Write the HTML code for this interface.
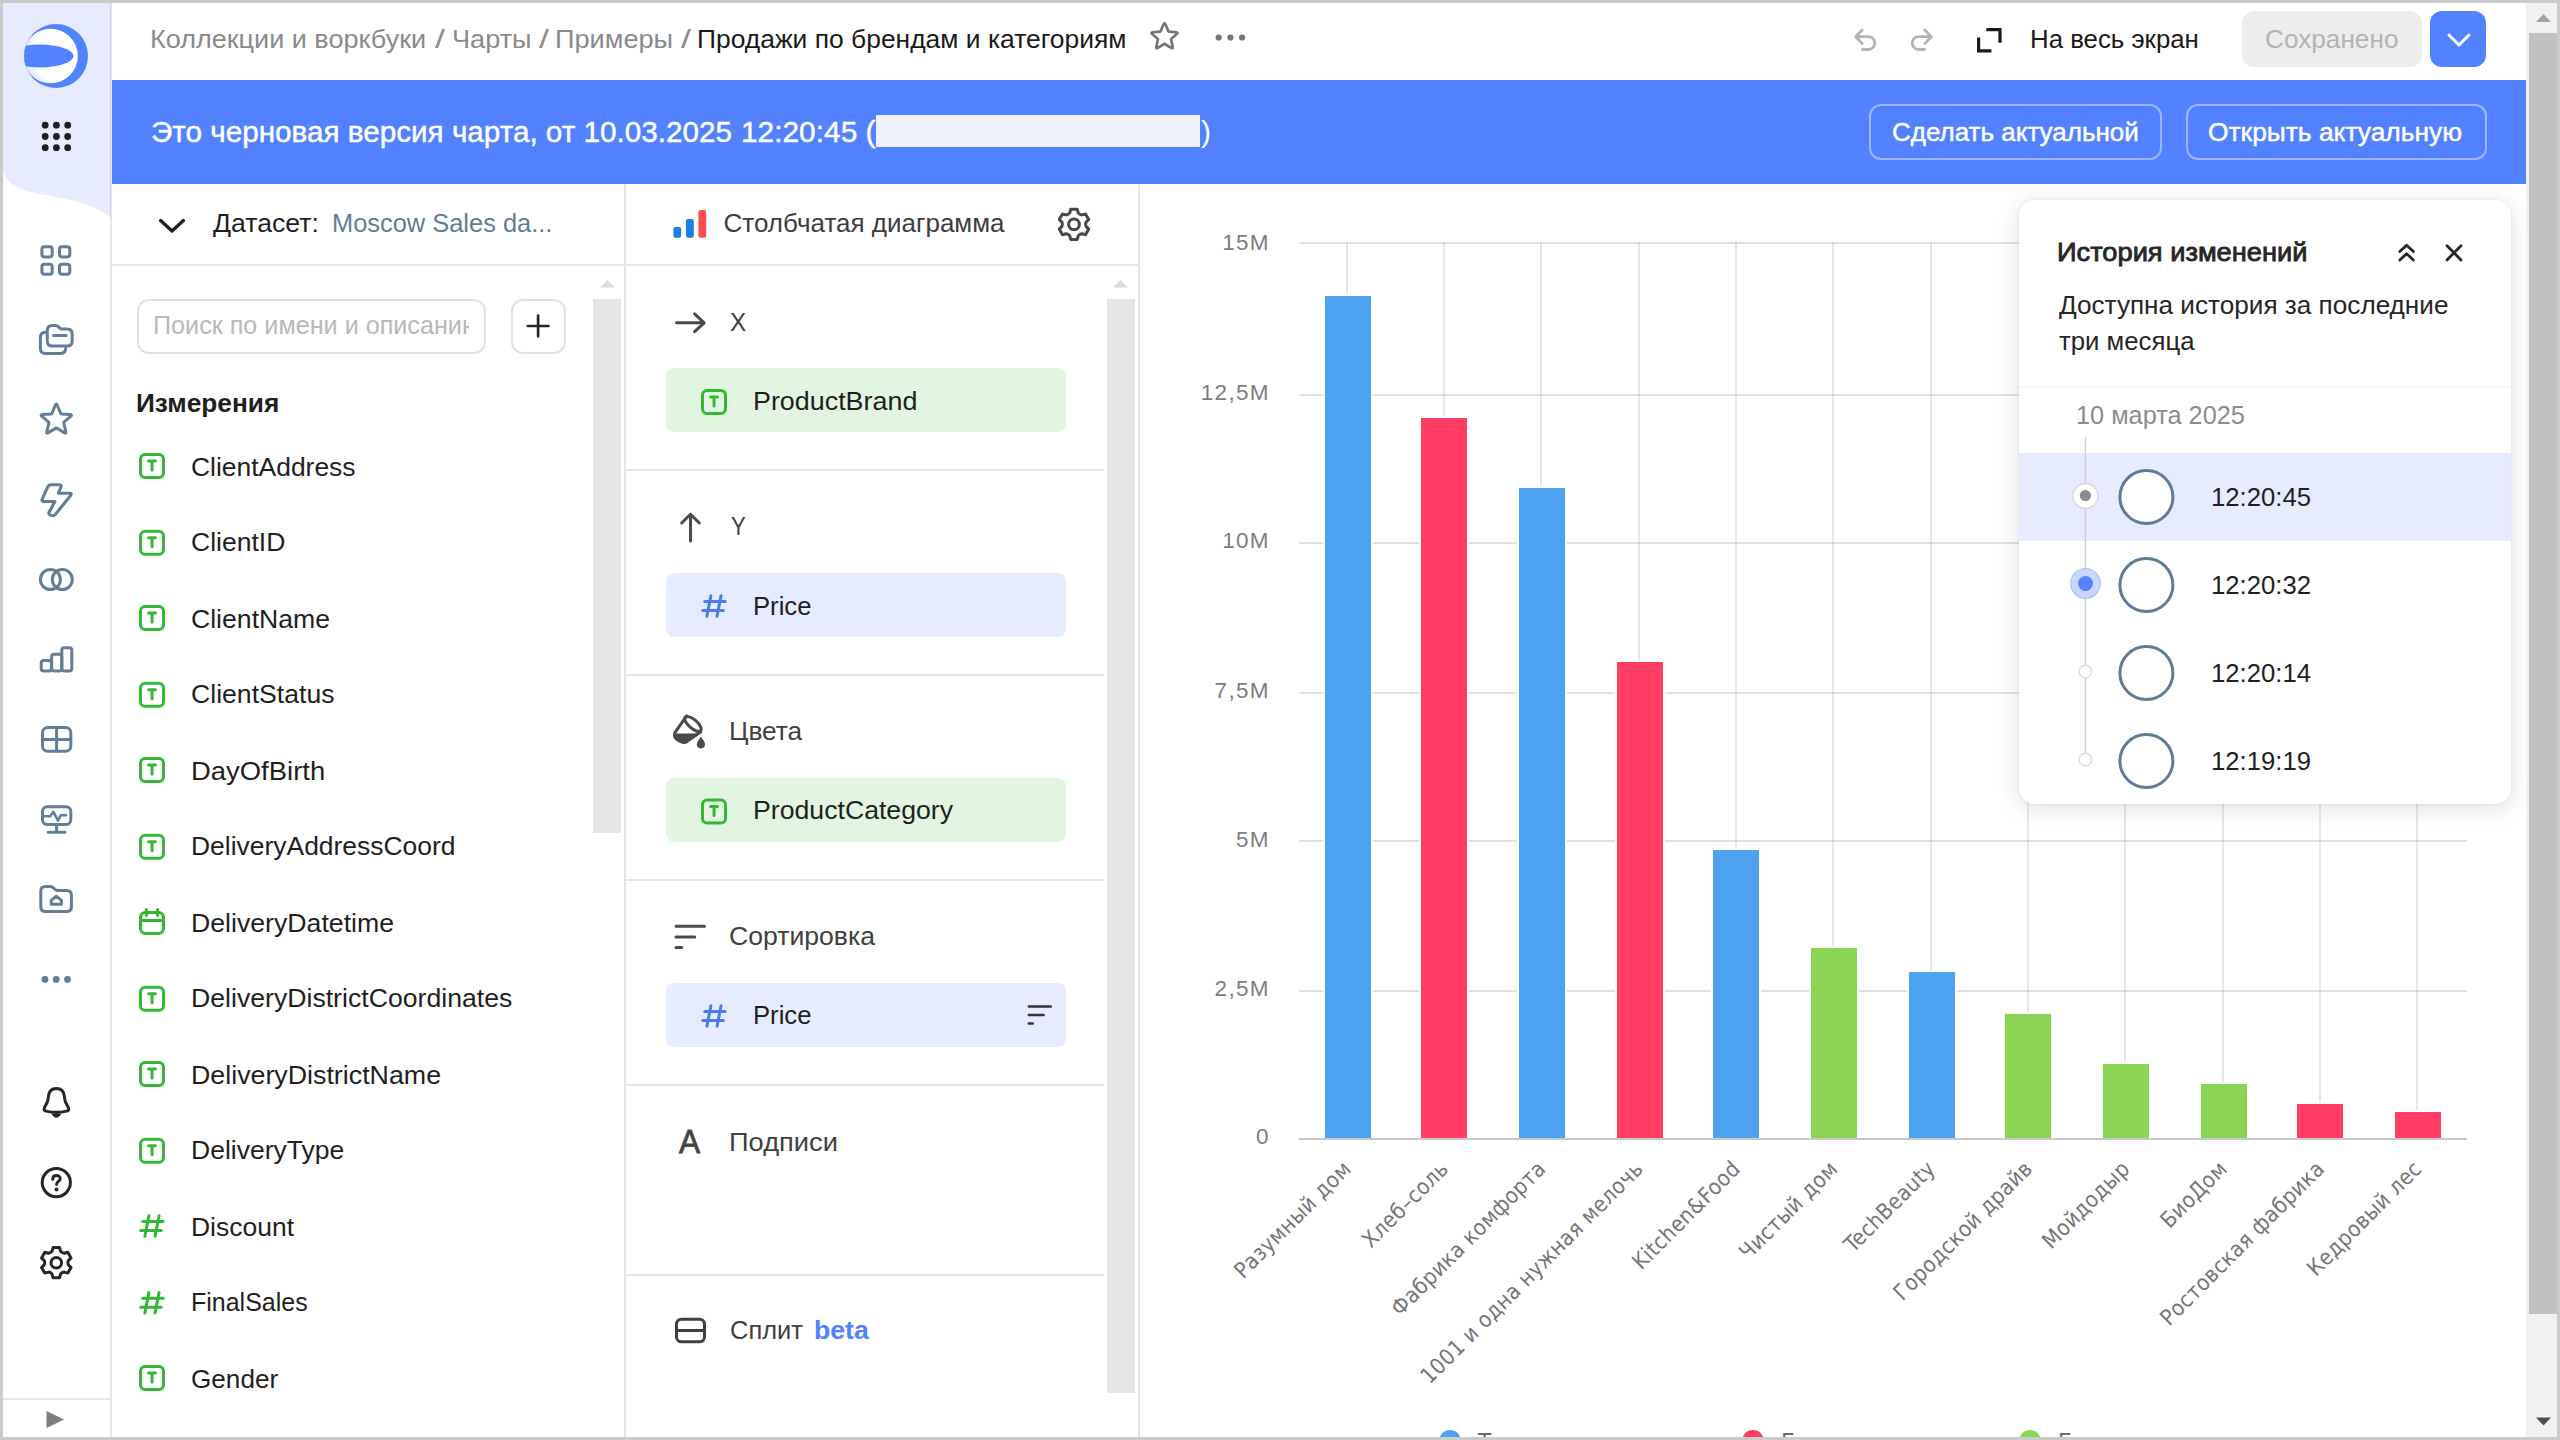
<!DOCTYPE html>
<html lang="ru"><head><meta charset="utf-8"><title>Продажи по брендам и категориям</title>
<style>
html,body{margin:0;padding:0;}
body{width:2560px;height:1440px;overflow:hidden;background:#fff;position:relative;font-family:'Liberation Sans',sans-serif;color:#1f1f1f;}
.a{position:absolute;}
.t{position:absolute;white-space:pre;display:block;transform-origin:0 0;}
.frame{position:absolute;left:0;top:0;width:2554px;height:1434px;border:3px solid #cbcbcb;z-index:50;pointer-events:none;}
svg{position:absolute;overflow:visible;}
.ph{position:absolute;left:666px;width:400px;height:64px;border-radius:8px;}
.ph.g{background:#e2f5e0;}
.ph.b{background:#e6ebff;}
.hl{position:absolute;height:2px;background:#e5e5e5;}
.vl{position:absolute;width:2px;background:#e5e5e5;}

</style></head>
<body>
<div class="frame"></div>
<div class="a" style="left:3px;top:3px;width:108px;height:1434px;background:#fff;"></div>
<svg class="a" style="left:0;top:0" width="112" height="240" viewBox="0 0 112 240"><path d="M3 3H111V218C96 206 78 201 56 197C30 192 10 190 3 172Z" fill="#e6ebff"/></svg>
<div class="vl" style="left:110px;top:3px;height:1434px;background:rgba(0,0,0,.095);"></div>
<div class="hl" style="left:3px;top:1398px;width:108px;"></div>
<span class="t" style="left:150.42px;top:25.99px;font-size:26px;line-height:26px;color:#8a8a8a;transform:scaleX(1.0393);">Коллекции и воркбуки</span>
<span class="t" style="left:435.00px;top:25.99px;font-size:26px;line-height:26px;color:#8a8a8a;transform:scaleX(1.3750);">/</span>
<span class="t" style="left:451.66px;top:25.99px;font-size:26px;line-height:26px;color:#8a8a8a;transform:scaleX(1.0436);">Чарты</span>
<span class="t" style="left:538.75px;top:25.99px;font-size:26px;line-height:26px;color:#8a8a8a;transform:scaleX(1.3750);">/</span>
<span class="t" style="left:554.91px;top:25.99px;font-size:26px;line-height:26px;color:#8a8a8a;transform:scaleX(1.0437);">Примеры</span>
<span class="t" style="left:681.00px;top:25.99px;font-size:26px;line-height:26px;color:#8a8a8a;transform:scaleX(1.3750);">/</span>
<span class="t" style="left:697.47px;top:25.99px;font-size:26px;line-height:26px;color:#1a1a1a;transform:scaleX(1.0165);">Продажи по брендам и категориям</span>
<span class="t" style="left:2030.02px;top:25.99px;font-size:26px;line-height:26px;color:#1a1a1a;transform:scaleX(0.9924);">На весь экран</span>
<div class="a" style="left:2242px;top:11px;width:180px;height:56px;border-radius:12px;background:#ededed;"></div>
<span class="t" style="left:2264.99px;top:25.99px;font-size:26px;line-height:26px;color:#b3b3b3;transform:scaleX(1.0073);">Сохранено</span>
<div class="a" style="left:2430px;top:11px;width:56px;height:56px;border-radius:12px;background:#5282ff;"></div>
<div class="a" style="left:112px;top:80px;width:2414px;height:104px;background:#5282ff;"></div>
<span class="t" style="left:151.01px;top:116.61px;font-size:30px;line-height:30px;color:#fff;transform:scaleX(0.9884);-webkit-text-stroke:0.45px #fff;">Это черновая версия чарта, от 10.03.2025</span>
<span class="t" style="left:740.51px;top:116.61px;font-size:30px;line-height:30px;color:#fff;transform:scaleX(0.9954);-webkit-text-stroke:0.45px #fff;">12:20:45 (</span>
<div class="a" style="left:876px;top:115px;width:324px;height:32px;background:#eef1fb;"></div>
<span class="t" style="left:1201.00px;top:116.61px;font-size:30px;line-height:30px;color:#fff;">)</span>
<div class="a" style="left:1869px;top:103.5px;width:288.5px;height:52.5px;border-radius:12px;border:2px solid rgba(255,255,255,.42);box-sizing:content-box;"></div>
<span class="t" style="left:1892.00px;top:118.99px;font-size:26px;line-height:26px;color:#fff;-webkit-text-stroke:0.45px #fff;">Сделать актуальной</span>
<div class="a" style="left:2186px;top:103.5px;width:296.5px;height:52.5px;border-radius:12px;border:2px solid rgba(255,255,255,.42);"></div>
<span class="t" style="left:2208.49px;top:118.99px;font-size:26px;line-height:26px;color:#fff;transform:scaleX(1.0145);-webkit-text-stroke:0.45px #fff;">Открыть актуальную</span>
<div class="vl" style="left:624px;top:184px;height:1253px;background:#e3e3e3;"></div>
<div class="vl" style="left:1138px;top:184px;height:1253px;background:#e3e3e3;"></div>
<div class="hl" style="left:112px;top:264px;width:1026px;"></div>
<span class="t" style="left:212.50px;top:209.99px;font-size:26px;line-height:26px;color:#1f1f1f;transform:scaleX(1.0240);">Датасет:</span>
<span class="t" style="left:331.79px;top:209.99px;font-size:26px;line-height:26px;color:#5f7d99;transform:scaleX(0.9776);">Moscow Sales da...</span>
<div class="a" style="left:137px;top:298.5px;width:345px;height:51px;border-radius:12px;border:2px solid #e1e1e1;"></div>
<div class="a" style="left:150px;top:305px;width:319px;height:44px;overflow:hidden;"><span class="t" style="left:2.56px;top:7.49px;font-size:26px;line-height:26px;color:#b8b8b8;transform:scaleX(0.9679);">Поиск по имени и описанию</span></div>
<div class="a" style="left:511px;top:298.5px;width:51px;height:51px;border-radius:12px;border:2px solid #e1e1e1;"></div>
<div class="a" style="left:593px;top:299px;width:28px;height:534px;background:#e6e6e6;"></div>
<span class="t" style="left:135.99px;top:389.99px;font-size:26px;line-height:26px;color:#1f1f1f;font-weight:700;transform:scaleX(1.0094);">Измерения</span>
<span class="t" style="left:191.48px;top:453.99px;font-size:26px;line-height:26px;color:#1f1f1f;transform:scaleX(1.0165);">ClientAddress</span>
<span class="t" style="left:191.48px;top:528.89px;font-size:26px;line-height:26px;color:#1f1f1f;transform:scaleX(1.0199);">ClientID</span>
<span class="t" style="left:191.48px;top:605.99px;font-size:26px;line-height:26px;color:#1f1f1f;transform:scaleX(1.0233);">ClientName</span>
<span class="t" style="left:191.48px;top:680.89px;font-size:26px;line-height:26px;color:#1f1f1f;transform:scaleX(1.0238);">ClientStatus</span>
<span class="t" style="left:191.14px;top:757.99px;font-size:26px;line-height:26px;color:#1f1f1f;transform:scaleX(1.0551);">DayOfBirth</span>
<span class="t" style="left:191.22px;top:832.89px;font-size:26px;line-height:26px;color:#1f1f1f;transform:scaleX(1.0170);">DeliveryAddressCoord</span>
<span class="t" style="left:191.20px;top:909.99px;font-size:26px;line-height:26px;color:#1f1f1f;transform:scaleX(1.0257);">DeliveryDatetime</span>
<span class="t" style="left:191.20px;top:984.89px;font-size:26px;line-height:26px;color:#1f1f1f;transform:scaleX(1.0248);">DeliveryDistrictCoordinates</span>
<span class="t" style="left:191.19px;top:1061.99px;font-size:26px;line-height:26px;color:#1f1f1f;transform:scaleX(1.0302);">DeliveryDistrictName</span>
<span class="t" style="left:191.21px;top:1136.89px;font-size:26px;line-height:26px;color:#1f1f1f;transform:scaleX(1.0199);">DeliveryType</span>
<span class="t" style="left:191.21px;top:1213.99px;font-size:26px;line-height:26px;color:#1f1f1f;transform:scaleX(1.0182);">Discount</span>
<span class="t" style="left:191.33px;top:1288.89px;font-size:26px;line-height:26px;color:#1f1f1f;transform:scaleX(0.9611);">FinalSales</span>
<span class="t" style="left:191.49px;top:1365.99px;font-size:26px;line-height:26px;color:#1f1f1f;transform:scaleX(1.0051);">Gender</span>
<span class="t" style="left:723.50px;top:209.99px;font-size:26px;line-height:26px;color:#3d3d3d;">Столбчатая диаграмма</span>
<div class="a" style="left:1107px;top:299px;width:28px;height:1094px;background:#e6e6e6;"></div>
<div class="hl" style="left:626px;top:469px;width:478px;"></div>
<div class="hl" style="left:626px;top:674px;width:478px;"></div>
<div class="hl" style="left:626px;top:879px;width:478px;"></div>
<div class="hl" style="left:626px;top:1084px;width:478px;"></div>
<div class="hl" style="left:626px;top:1274px;width:478px;"></div>
<span class="t" style="left:730.30px;top:309.37px;font-size:26.5px;line-height:26.5px;color:#404040;transform:scaleX(0.9167);">X</span>
<span class="t" style="left:730.75px;top:513.49px;font-size:26px;line-height:26px;color:#404040;transform:scaleX(0.8529);">Y</span>
<span class="t" style="left:728.73px;top:718.49px;font-size:26px;line-height:26px;color:#404040;transform:scaleX(1.0110);">Цвета</span>
<span class="t" style="left:729.48px;top:923.49px;font-size:26px;line-height:26px;color:#404040;transform:scaleX(1.0230);">Сортировка</span>
<span class="t" style="left:728.60px;top:1128.99px;font-size:26px;line-height:26px;color:#404040;transform:scaleX(1.0493);">Подписи</span>
<span class="t" style="left:729.72px;top:1317.49px;font-size:26px;line-height:26px;color:#404040;transform:scaleX(0.9789);">Сплит</span>
<span class="t" style="left:813.98px;top:1317.49px;font-size:26px;line-height:26px;color:#5282ff;font-weight:700;transform:scaleX(1.0245);">beta</span>
<div class="ph g" style="top:368px;"></div>
<div class="ph b" style="top:573px;"></div>
<div class="ph g" style="top:778px;"></div>
<div class="ph b" style="top:983px;"></div>
<span class="t" style="left:752.93px;top:387.99px;font-size:26px;line-height:26px;color:#1f1f1f;transform:scaleX(1.0336);">ProductBrand</span>
<span class="t" style="left:753.03px;top:592.99px;font-size:26px;line-height:26px;color:#1f1f1f;transform:scaleX(0.9863);">Price</span>
<span class="t" style="left:752.95px;top:797.49px;font-size:26px;line-height:26px;color:#1f1f1f;transform:scaleX(1.0254);">ProductCategory</span>
<span class="t" style="left:753.03px;top:1002.49px;font-size:26px;line-height:26px;color:#1f1f1f;transform:scaleX(0.9863);">Price</span>
<svg style="left:0;top:0" width="2560" height="1440" viewBox="0 0 2560 1440">
<rect x="1299" y="242" width="1168" height="2" fill="rgba(0,0,0,0.12)"/>
<rect x="1299" y="394" width="1168" height="2" fill="rgba(0,0,0,0.12)"/>
<rect x="1299" y="542" width="1168" height="2" fill="rgba(0,0,0,0.12)"/>
<rect x="1299" y="692" width="1168" height="2" fill="rgba(0,0,0,0.12)"/>
<rect x="1299" y="840" width="1168" height="2" fill="rgba(0,0,0,0.12)"/>
<rect x="1299" y="990" width="1168" height="2" fill="rgba(0,0,0,0.12)"/>
<rect x="1346" y="242" width="2" height="896" fill="rgba(0,0,0,0.09)"/>
<rect x="1443" y="242" width="2" height="896" fill="rgba(0,0,0,0.09)"/>
<rect x="1540" y="242" width="2" height="896" fill="rgba(0,0,0,0.09)"/>
<rect x="1638" y="242" width="2" height="896" fill="rgba(0,0,0,0.09)"/>
<rect x="1735" y="242" width="2" height="896" fill="rgba(0,0,0,0.09)"/>
<rect x="1832" y="242" width="2" height="896" fill="rgba(0,0,0,0.09)"/>
<rect x="1930" y="242" width="2" height="896" fill="rgba(0,0,0,0.09)"/>
<rect x="2027" y="242" width="2" height="896" fill="rgba(0,0,0,0.09)"/>
<rect x="2124" y="242" width="2" height="896" fill="rgba(0,0,0,0.09)"/>
<rect x="2222" y="242" width="2" height="896" fill="rgba(0,0,0,0.09)"/>
<rect x="2319" y="242" width="2" height="896" fill="rgba(0,0,0,0.09)"/>
<rect x="2416" y="242" width="2" height="896" fill="rgba(0,0,0,0.09)"/>
<rect x="1323" y="294" width="50" height="844" fill="#fff"/>
<rect x="1325" y="296" width="46" height="842" fill="#4da2f1"/>
<rect x="1419" y="416" width="50" height="722" fill="#fff"/>
<rect x="1421" y="418" width="46" height="720" fill="#ff3d64"/>
<rect x="1517" y="486" width="50" height="652" fill="#fff"/>
<rect x="1519" y="488" width="46" height="650" fill="#4da2f1"/>
<rect x="1615" y="660" width="50" height="478" fill="#fff"/>
<rect x="1617" y="662" width="46" height="476" fill="#ff3d64"/>
<rect x="1711" y="848" width="50" height="290" fill="#fff"/>
<rect x="1713" y="850" width="46" height="288" fill="#4da2f1"/>
<rect x="1809" y="946" width="50" height="192" fill="#fff"/>
<rect x="1811" y="948" width="46" height="190" fill="#8ad554"/>
<rect x="1907" y="970" width="50" height="168" fill="#fff"/>
<rect x="1909" y="972" width="46" height="166" fill="#4da2f1"/>
<rect x="2003" y="1012" width="50" height="126" fill="#fff"/>
<rect x="2005" y="1014" width="46" height="124" fill="#8ad554"/>
<rect x="2101" y="1062" width="50" height="76" fill="#fff"/>
<rect x="2103" y="1064" width="46" height="74" fill="#8ad554"/>
<rect x="2199" y="1082" width="50" height="56" fill="#fff"/>
<rect x="2201" y="1084" width="46" height="54" fill="#8ad554"/>
<rect x="2295" y="1102" width="50" height="36" fill="#fff"/>
<rect x="2297" y="1104" width="46" height="34" fill="#ff3d64"/>
<rect x="2393" y="1110" width="50" height="28" fill="#fff"/>
<rect x="2395" y="1112" width="46" height="26" fill="#ff3d64"/>
<rect x="1299" y="1138" width="1168" height="2" fill="#c8c8c8"/>
<text x="1269.8" y="250" text-anchor="end" font-family="'Liberation Sans',sans-serif" font-size="22.5" letter-spacing="1.3" fill="#7d7d7d">15M</text>
<text x="1269.8" y="400" text-anchor="end" font-family="'Liberation Sans',sans-serif" font-size="22.5" letter-spacing="1.3" fill="#7d7d7d">12,5M</text>
<text x="1269.8" y="548.2" text-anchor="end" font-family="'Liberation Sans',sans-serif" font-size="22.5" letter-spacing="1.3" fill="#7d7d7d">10M</text>
<text x="1269.8" y="697.6" text-anchor="end" font-family="'Liberation Sans',sans-serif" font-size="22.5" letter-spacing="1.3" fill="#7d7d7d">7,5M</text>
<text x="1269.8" y="846.6" text-anchor="end" font-family="'Liberation Sans',sans-serif" font-size="22.5" letter-spacing="1.3" fill="#7d7d7d">5M</text>
<text x="1269.8" y="995.8" text-anchor="end" font-family="'Liberation Sans',sans-serif" font-size="22.5" letter-spacing="1.3" fill="#7d7d7d">2,5M</text>
<text x="1269.8" y="1144" text-anchor="end" font-family="'Liberation Sans',sans-serif" font-size="22.5" letter-spacing="1.3" fill="#7d7d7d">0</text>
<text x="1352.5" y="1170.2" text-anchor="end" transform="rotate(-45 1352.5 1170.2)" font-family="'DejaVu Sans Condensed','DejaVu Sans',sans-serif" font-size="22" letter-spacing="0.4" fill="#757575">Разумный дом</text>
<text x="1449.8" y="1170.2" text-anchor="end" transform="rotate(-45 1449.8 1170.2)" font-family="'DejaVu Sans Condensed','DejaVu Sans',sans-serif" font-size="22" letter-spacing="0.4" fill="#757575">Хлеб–соль</text>
<text x="1547.1" y="1170.2" text-anchor="end" transform="rotate(-45 1547.1 1170.2)" font-family="'DejaVu Sans Condensed','DejaVu Sans',sans-serif" font-size="22" letter-spacing="0.4" fill="#757575">Фабрика комфорта</text>
<text x="1644.5" y="1170.2" text-anchor="end" transform="rotate(-45 1644.5 1170.2)" font-family="'DejaVu Sans Condensed','DejaVu Sans',sans-serif" font-size="22" letter-spacing="0.4" fill="#757575">1001 и одна нужная мелочь</text>
<text x="1741.8" y="1170.2" text-anchor="end" transform="rotate(-45 1741.8 1170.2)" font-family="'DejaVu Sans Condensed','DejaVu Sans',sans-serif" font-size="22" letter-spacing="0.4" fill="#757575">Kitchen&amp;Food</text>
<text x="1839.1" y="1170.2" text-anchor="end" transform="rotate(-45 1839.1 1170.2)" font-family="'DejaVu Sans Condensed','DejaVu Sans',sans-serif" font-size="22" letter-spacing="0.4" fill="#757575">Чистый дом</text>
<text x="1936.5" y="1170.2" text-anchor="end" transform="rotate(-45 1936.5 1170.2)" font-family="'DejaVu Sans Condensed','DejaVu Sans',sans-serif" font-size="22" letter-spacing="0.4" fill="#757575">TechBeauty</text>
<text x="2033.8" y="1170.2" text-anchor="end" transform="rotate(-45 2033.8 1170.2)" font-family="'DejaVu Sans Condensed','DejaVu Sans',sans-serif" font-size="22" letter-spacing="0.4" fill="#757575">Городской драйв</text>
<text x="2131.1" y="1170.2" text-anchor="end" transform="rotate(-45 2131.1 1170.2)" font-family="'DejaVu Sans Condensed','DejaVu Sans',sans-serif" font-size="22" letter-spacing="0.4" fill="#757575">Мойдодыр</text>
<text x="2228.5" y="1170.2" text-anchor="end" transform="rotate(-45 2228.5 1170.2)" font-family="'DejaVu Sans Condensed','DejaVu Sans',sans-serif" font-size="22" letter-spacing="0.4" fill="#757575">БиоДом</text>
<text x="2325.8" y="1170.2" text-anchor="end" transform="rotate(-45 2325.8 1170.2)" font-family="'DejaVu Sans Condensed','DejaVu Sans',sans-serif" font-size="22" letter-spacing="0.4" fill="#757575">Ростовская фабрика</text>
<text x="2423.1" y="1170.2" text-anchor="end" transform="rotate(-45 2423.1 1170.2)" font-family="'DejaVu Sans Condensed','DejaVu Sans',sans-serif" font-size="22" letter-spacing="0.4" fill="#757575">Кедровый лес</text>
<circle cx="1450" cy="1441" r="11" fill="#4da2f1"/>
<text x="1478" y="1450.5" font-family="'DejaVu Sans Condensed','DejaVu Sans',sans-serif" font-size="24" fill="#6b6b6b">Техника для дома</text>
<circle cx="1753" cy="1441" r="11" fill="#ff3d64"/>
<text x="1781" y="1450.5" font-family="'DejaVu Sans Condensed','DejaVu Sans',sans-serif" font-size="24" fill="#6b6b6b">Бытовая химия</text>
<circle cx="2030" cy="1441" r="11" fill="#8ad554"/>
<text x="2058" y="1450.5" font-family="'DejaVu Sans Condensed','DejaVu Sans',sans-serif" font-size="24" fill="#6b6b6b">Бытовые товары</text>
</svg>
<div class="a" style="left:2019px;top:200px;width:492px;height:604px;border-radius:16px;background:#fff;box-shadow:0 4px 24px rgba(0,0,0,.13),0 0 4px rgba(0,0,0,.06);overflow:hidden;"><div class="a" style="left:0;top:253px;width:492px;height:88px;background:#e6ebff;"></div><div class="a" style="left:0;top:186px;width:492px;height:1.5px;background:rgba(0,0,0,.035);"></div></div>
<span class="t" style="left:2056.94px;top:238.57px;font-size:26.5px;line-height:26.5px;color:#262626;transform:scaleX(1.0277);-webkit-text-stroke:0.85px #262626;">История изменений</span>
<span class="t" style="left:2059.00px;top:292.49px;font-size:26px;line-height:26px;color:#262626;transform:scaleX(1.0056);">Доступна история за последние</span>
<span class="t" style="left:2059.00px;top:327.99px;font-size:26px;line-height:26px;color:#262626;transform:scaleX(0.9897);">три месяца</span>
<span class="t" style="left:2076.03px;top:401.99px;font-size:26px;line-height:26px;color:#8c8c8c;transform:scaleX(0.9736);">10 марта 2025</span>
<svg style="left:0;top:0" width="2560" height="1440" viewBox="0 0 2560 1440">
<rect x="2084.7" y="437" width="1.4" height="324" fill="#cfcfcf"/>
<circle cx="2146.4" cy="497" r="26.5" fill="#fff" stroke="#5f7b95" stroke-width="3"/>
<circle cx="2146.4" cy="585" r="26.5" fill="#fff" stroke="#5f7b95" stroke-width="3"/>
<circle cx="2146.4" cy="673" r="26.5" fill="#fff" stroke="#5f7b95" stroke-width="3"/>
<circle cx="2146.4" cy="761" r="26.5" fill="#fff" stroke="#5f7b95" stroke-width="3"/>
<circle cx="2085.4" cy="496" r="12.5" fill="#fff" stroke="#d6d6d6" stroke-width="1.4"/><circle cx="2085.4" cy="495.5" r="5.6" fill="#8c8c8c"/>
<circle cx="2085.5" cy="583.5" r="14.8" fill="#c9d5ff" stroke="#adc1ff" stroke-width="1.2"/><circle cx="2085.5" cy="583.5" r="7.5" fill="#5282ff"/>
<circle cx="2085.4" cy="671.5" r="6.3" fill="#fff" stroke="#dcdcdc" stroke-width="1.4"/>
<circle cx="2085.4" cy="759.5" r="6.3" fill="#fff" stroke="#dcdcdc" stroke-width="1.4"/>
<g fill="none" stroke="#262626" stroke-width="2.8" stroke-linecap="round" stroke-linejoin="round"><path d="M2399.8 251.5L2406.6 245.2L2413.4 251.5"/><path d="M2399.8 260L2406.6 253.7L2413.4 260"/><path d="M2447 245.7L2461 259.9M2461 245.7L2447 259.9"/></g>
</svg>
<span class="t" style="left:2211.26px;top:483.99px;font-size:26px;line-height:26px;color:#1f1f1f;transform:scaleX(0.9875);">12:20:45</span>
<span class="t" style="left:2211.26px;top:571.99px;font-size:26px;line-height:26px;color:#1f1f1f;transform:scaleX(0.9875);">12:20:32</span>
<span class="t" style="left:2211.26px;top:659.99px;font-size:26px;line-height:26px;color:#1f1f1f;transform:scaleX(0.9875);">12:20:14</span>
<span class="t" style="left:2211.26px;top:747.99px;font-size:26px;line-height:26px;color:#1f1f1f;transform:scaleX(0.9875);">12:19:19</span>
<svg style="left:0;top:0" width="2560" height="1440" viewBox="0 0 2560 1440">
<defs><clipPath id="lg"><circle cx="56" cy="56" r="32"/></clipPath><radialGradient id="lgw" cx="0.72" cy="0.45" r="0.85"><stop offset="0" stop-color="#ffffff"/><stop offset="0.62" stop-color="#ffffff"/><stop offset="1" stop-color="#c3d1ff"/></radialGradient></defs>
<circle cx="56" cy="56" r="32" fill="#5282ff"/>
<g clip-path="url(#lg)"><circle cx="50.5" cy="56" r="27.3" fill="url(#lgw)"/><ellipse cx="40" cy="56" rx="33.6" ry="11.4" fill="#5282ff"/></g>
<circle cx="45.2" cy="125.2" r="3.4" fill="#1f1f1f"/>
<circle cx="56.4" cy="125.2" r="3.4" fill="#1f1f1f"/>
<circle cx="67.7" cy="125.2" r="3.4" fill="#1f1f1f"/>
<circle cx="45.2" cy="136.5" r="3.4" fill="#1f1f1f"/>
<circle cx="56.4" cy="136.5" r="3.4" fill="#1f1f1f"/>
<circle cx="67.7" cy="136.5" r="3.4" fill="#1f1f1f"/>
<circle cx="45.2" cy="147.7" r="3.4" fill="#1f1f1f"/>
<circle cx="56.4" cy="147.7" r="3.4" fill="#1f1f1f"/>
<circle cx="67.7" cy="147.7" r="3.4" fill="#1f1f1f"/>
<g fill="none" stroke="#647d96" stroke-width="3" stroke-linecap="round" stroke-linejoin="round" ><rect x="41.9" y="246.8" width="10.3" height="10.1" rx="2.6"/><rect x="59.5" y="246.8" width="10.3" height="10.1" rx="2.6"/><rect x="41.9" y="264.2" width="10.3" height="10.1" rx="2.6"/><rect x="59.5" y="264.2" width="10.3" height="10.1" rx="2.6"/></g>
<g fill="none" stroke="#647d96" stroke-width="3" stroke-linecap="round" stroke-linejoin="round" ><path d="M45.5 332.3Q40.4 332.6 40.4 337.5V348.4Q40.4 353.4 45.4 353.4H60.6Q65.6 353.4 65.6 348.6"/><path d="M47.3 330.5Q47.3 325.4 52.3 325.4H55.5Q57.5 325.4 58.8 327L59.6 328Q60.6 329.1 62.3 329.1H67.2Q72.2 329.1 72.2 334.1V341Q72.2 346.1 67.2 346.1H52.3Q47.3 346.1 47.3 341Z"/><path d="M53.6 335.4H66.2"/></g>
<g fill="none" stroke="#647d96" stroke-width="3" stroke-linecap="round" stroke-linejoin="round" ><path d="M55.31 405.30Q56.30 402.90 57.29 405.30L60.67 413.50Q60.83 413.87 61.22 413.90L70.07 414.58Q72.66 414.78 70.68 416.47L63.93 422.22Q63.62 422.48 63.72 422.87L65.80 431.49Q66.41 434.02 64.19 432.65L56.64 428.01Q56.30 427.80 55.96 428.01L48.41 432.65Q46.19 434.02 46.80 431.49L48.88 422.87Q48.98 422.48 48.67 422.22L41.92 416.47Q39.94 414.78 42.53 414.58L51.38 413.90Q51.77 413.87 51.93 413.50Z"/></g>
<g fill="none" stroke="#647d96" stroke-width="3.1" stroke-linecap="round" stroke-linejoin="round" ><path d="M47.47 487.26Q48.60 484.70 51.40 484.70L59.20 484.70Q62.00 484.70 60.87 487.26L58.36 492.93Q58.20 493.30 58.60 493.30L69.60 493.30Q72.40 493.30 70.64 495.48L55.43 514.37Q53.80 516.40 51.40 515.41L50.40 514.99Q48.00 514.00 49.27 511.73L54.80 501.85Q55.00 501.50 54.60 501.50L44.00 501.50Q41.20 501.50 42.33 498.94Z"/></g>
<g fill="none" stroke="#647d96" stroke-width="3" stroke-linecap="round" stroke-linejoin="round" ><circle cx="50.4" cy="579.5" r="10"/><circle cx="62.3" cy="579.5" r="10"/></g>
<g fill="none" stroke="#647d96" stroke-width="3" stroke-linecap="round" stroke-linejoin="round" ><rect x="41.2" y="660.6" width="10.4" height="10.4" rx="2.6"/><rect x="51.6" y="654.2" width="10.2" height="16.8" rx="2.6"/><rect x="61.8" y="647.8" width="10" height="23.2" rx="2.6"/></g>
<g fill="none" stroke="#647d96" stroke-width="3" stroke-linecap="round" stroke-linejoin="round" ><rect x="42.5" y="727.5" width="28.3" height="23.7" rx="5.2"/><path d="M56.6 727.5V751.2M42.5 739.4H70.8"/></g>
<g fill="none" stroke="#647d96" stroke-width="3" stroke-linecap="round" stroke-linejoin="round" ><rect x="42.5" y="806.7" width="28.3" height="17.9" rx="4.8"/><path d="M56.6 825V832.2M48.2 832.2H65"/></g>
<g fill="none" stroke="#647d96" stroke-width="2.6" stroke-linecap="round" stroke-linejoin="round" ><path d="M43.7 816.2H50.2L53.4 811.8L58 820.6L60.8 815.2H66"/></g>
<g fill="none" stroke="#647d96" stroke-width="3" stroke-linecap="round" stroke-linejoin="round" ><path d="M40.8 891.3Q40.8 886.5 45.6 886.5H50Q52.2 886.5 53.6 888L54.8 889.3Q56 890.5 58 890.5H66.6Q71.4 890.5 71.4 895.3V906.7Q71.4 911.5 66.6 911.5H45.6Q40.8 911.5 40.8 906.7Z"/><path d="M51.3 904.3H61.4V900.3L56.3 896.2L51.3 900.3Z"/></g>
<circle cx="45" cy="979.4" r="3.4" fill="#647d96"/>
<circle cx="56.2" cy="979.4" r="3.4" fill="#647d96"/>
<circle cx="67.5" cy="979.4" r="3.4" fill="#647d96"/>
<g fill="none" stroke="#262626" stroke-width="3" stroke-linecap="round" stroke-linejoin="round" ><path d="M56.4 1088.4C51.3 1088.4 48.9 1092 48.5 1096C48.2 1100 47.4 1103 45.5 1105.6C43.6 1108.2 43.4 1110.4 46.2 1111.1C52.2 1112.6 60.6 1112.6 66.6 1111.1C69.4 1110.4 69.2 1108.2 67.3 1105.6C65.4 1103 64.6 1100 64.3 1096C63.9 1092 61.5 1088.4 56.4 1088.4Z"/></g>
<path d="M51.4 1113.8Q56.4 1121.6 61.4 1113.8Z" fill="#262626"/>
<g fill="none" stroke="#262626" stroke-width="3" stroke-linecap="round" stroke-linejoin="round" ><circle cx="56.3" cy="1182.6" r="14.1"/></g>
<g fill="none" stroke="#262626" stroke-width="2.9" stroke-linecap="round" stroke-linejoin="round" ><path d="M52.7 1179.4C52.7 1176.7 54.6 1175.5 56.5 1175.5C58.6 1175.5 60.2 1176.8 60.2 1178.7C60.2 1181.4 56.5 1181.6 56.5 1184.6"/></g>
<circle cx="56.5" cy="1189.6" r="2" fill="#262626"/>
<g fill="none" stroke="#262626" stroke-width="3" stroke-linecap="round" stroke-linejoin="round" ><path d="M52.10 1251.20L53.07 1247.54L59.53 1247.54L60.50 1251.20Q61.88 1253.04 64.16 1253.31L67.81 1252.32L71.04 1257.92L68.36 1260.58Q67.46 1262.70 68.36 1264.82L71.04 1267.48L67.81 1273.08L64.16 1272.09Q61.88 1272.36 60.50 1274.20L59.53 1277.86L53.07 1277.86L52.10 1274.20Q50.72 1272.36 48.44 1272.09L44.79 1273.08L41.56 1267.48L44.24 1264.82Q45.14 1262.70 44.24 1260.58L41.56 1257.92L44.79 1252.32L48.44 1253.31Q50.72 1253.04 52.10 1251.20Z"/><circle cx="56.3" cy="1262.7" r="5.3"/></g>
<path d="M46.5 1411L64 1419.5L46.5 1428Z" fill="#7d7d7d"/>
<g fill="none" stroke="#757575" stroke-width="2.7" stroke-linecap="round" stroke-linejoin="round" ><path d="M1163.59 24.31Q1164.50 22.20 1165.41 24.31L1168.34 31.13Q1168.50 31.50 1168.90 31.54L1176.29 32.22Q1178.58 32.43 1176.85 33.94L1171.27 38.84Q1170.97 39.10 1171.06 39.49L1172.69 46.73Q1173.20 48.97 1171.22 47.80L1164.84 44.00Q1164.50 43.80 1164.16 44.00L1157.78 47.80Q1155.80 48.97 1156.31 46.73L1157.94 39.49Q1158.03 39.10 1157.73 38.84L1152.15 33.94Q1150.42 32.43 1152.71 32.22L1160.10 31.54Q1160.50 31.50 1160.66 31.13Z"/></g>
<circle cx="1218.7" cy="37.5" r="3.1" fill="#757575"/>
<circle cx="1230.4" cy="37.5" r="3.1" fill="#757575"/>
<circle cx="1242.1" cy="37.5" r="3.1" fill="#757575"/>
<g fill="none" stroke="#b5b5b5" stroke-width="2.8" stroke-linecap="round" stroke-linejoin="round" ><path d="M1862.2 30L1855.6 36.7L1862.2 43.4M1856 36.7H1868.4A6.4 6.4 0 0 1 1868.4 49.5H1862.5"/></g>
<g fill="none" stroke="#b5b5b5" stroke-width="2.8" stroke-linecap="round" stroke-linejoin="round" ><path d="M1924.8 30L1931.4 36.7L1924.8 43.4M1931 36.7H1918.6A6.4 6.4 0 0 0 1918.6 49.5H1924.5"/></g>
<g fill="none" stroke="#1a1a1a" stroke-width="3.2" stroke-linejoin="miter"><path d="M1986.3 29.6H2000V42.7"/><path d="M1978.6 37.6V50.8H1991.4"/></g>
<g fill="none" stroke="#fff" stroke-width="3" stroke-linecap="round" stroke-linejoin="round" ><path d="M2449 35L2459 45L2469 35"/></g>
<g fill="none" stroke="#1f1f1f" stroke-width="3.4" stroke-linecap="round" stroke-linejoin="round" ><path d="M160.6 220.6L172 231L183.4 220.6"/></g>
<g fill="none" stroke="#262626" stroke-width="2.7" stroke-linecap="round" stroke-linejoin="round" ><path d="M527.8 326H548.4M538.1 315.7V336.3"/></g>
<path d="M600 287.5L607.5 280L615 287.5Z" fill="#dddddd"/><path d="M1113.2 287.5L1120.7 280L1128.2 287.5Z" fill="#dddddd"/>
<g fill="none" stroke="#36b635" stroke-width="3" stroke-linecap="round" stroke-linejoin="round" ><rect x="140.5" y="454.5" width="23" height="23" rx="4.6"/><path d="M148.6 461H155.5M152.06 461V470"/></g>
<g fill="none" stroke="#36b635" stroke-width="3" stroke-linecap="round" stroke-linejoin="round" ><rect x="140.5" y="531.35" width="23" height="23" rx="4.6"/><path d="M148.6 537.85H155.5M152.06 537.85V546.85"/></g>
<g fill="none" stroke="#36b635" stroke-width="3" stroke-linecap="round" stroke-linejoin="round" ><rect x="140.5" y="606.5" width="23" height="23" rx="4.6"/><path d="M148.6 613H155.5M152.06 613V622"/></g>
<g fill="none" stroke="#36b635" stroke-width="3" stroke-linecap="round" stroke-linejoin="round" ><rect x="140.5" y="683.35" width="23" height="23" rx="4.6"/><path d="M148.6 689.85H155.5M152.06 689.85V698.85"/></g>
<g fill="none" stroke="#36b635" stroke-width="3" stroke-linecap="round" stroke-linejoin="round" ><rect x="140.5" y="758.5" width="23" height="23" rx="4.6"/><path d="M148.6 765H155.5M152.06 765V774"/></g>
<g fill="none" stroke="#36b635" stroke-width="3" stroke-linecap="round" stroke-linejoin="round" ><rect x="140.5" y="835.35" width="23" height="23" rx="4.6"/><path d="M148.6 841.85H155.5M152.06 841.85V850.85"/></g>
<g fill="none" stroke="#36b635" stroke-width="3" stroke-linecap="round" stroke-linejoin="round" ><rect x="140.5" y="912.4" width="23" height="21.1" rx="5"/><path d="M140.5 920.5H163.5M146.4 909.5V915.4M157.5 909.5V915.4"/></g>
<g fill="none" stroke="#36b635" stroke-width="3" stroke-linecap="round" stroke-linejoin="round" ><rect x="140.5" y="987.35" width="23" height="23" rx="4.6"/><path d="M148.6 993.85H155.5M152.06 993.85V1002.85"/></g>
<g fill="none" stroke="#36b635" stroke-width="3" stroke-linecap="round" stroke-linejoin="round" ><rect x="140.5" y="1062.5" width="23" height="23" rx="4.6"/><path d="M148.6 1069H155.5M152.06 1069V1078"/></g>
<g fill="none" stroke="#36b635" stroke-width="3" stroke-linecap="round" stroke-linejoin="round" ><rect x="140.5" y="1139.35" width="23" height="23" rx="4.6"/><path d="M148.6 1145.85H155.5M152.06 1145.85V1154.85"/></g>
<g fill="none" stroke="#36b635" stroke-width="3" stroke-linecap="round" stroke-linejoin="round" ><path d="M142.7 1221.4H163.2M140.7 1230.5H161.3M148.9 1215.7L144.9 1236.2M159.06 1215.7L155 1236.2"/></g>
<g fill="none" stroke="#36b635" stroke-width="3" stroke-linecap="round" stroke-linejoin="round" ><path d="M142.7 1298.25H163.2M140.7 1307.35H161.3M148.9 1292.55L144.9 1313.05M159.06 1292.55L155 1313.05"/></g>
<g fill="none" stroke="#36b635" stroke-width="3" stroke-linecap="round" stroke-linejoin="round" ><rect x="140.5" y="1366.5" width="23" height="23" rx="4.6"/><path d="M148.6 1373H155.5M152.06 1373V1382"/></g>
<rect x="673.4" y="227" width="7.8" height="10.8" rx="2" fill="#1a7fe6"/><rect x="686" y="219" width="7.8" height="18.8" rx="2" fill="#1a7fe6"/><rect x="698.4" y="210" width="7.8" height="27.8" rx="2" fill="#ff4d4d"/>
<g fill="none" stroke="#474747" stroke-width="3" stroke-linecap="round" stroke-linejoin="round" ><path d="M1069.80 212.80L1070.77 209.14L1077.23 209.14L1078.20 212.80Q1079.58 214.64 1081.86 214.91L1085.51 213.92L1088.74 219.52L1086.06 222.18Q1085.16 224.30 1086.06 226.42L1088.74 229.08L1085.51 234.68L1081.86 233.69Q1079.58 233.96 1078.20 235.80L1077.23 239.46L1070.77 239.46L1069.80 235.80Q1068.42 233.96 1066.14 233.69L1062.49 234.68L1059.26 229.08L1061.94 226.42Q1062.84 224.30 1061.94 222.18L1059.26 219.52L1062.49 213.92L1066.14 214.91Q1068.42 214.64 1069.80 212.80Z"/><circle cx="1074" cy="224.3" r="5.4"/></g>
<g fill="none" stroke="#4a4a4a" stroke-width="3" stroke-linecap="round" stroke-linejoin="round" ><path d="M676.6 322.8H703.8M694.6 313.9L704.2 322.8L694.6 331.7"/></g>
<g fill="none" stroke="#4a4a4a" stroke-width="3" stroke-linecap="round" stroke-linejoin="round" ><path d="M690.5 541V514.6M681.7 523L690.5 514.2L699.3 523"/></g>
<g fill="none" stroke="#4a4a4a" stroke-width="3" stroke-linecap="round" stroke-linejoin="round" ><path d="M686.6 715.8L675 732.6Q673.3 737.3 677.2 739.6L681.5 741.9Q684.2 743.2 686.8 741.6L700.6 732"/></g>
<ellipse cx="692.9" cy="723.9" rx="10.3" ry="4.3" transform="rotate(41 692.9 723.9)" fill="none" stroke="#4a4a4a" stroke-width="3"/>
<path d="M674.6 733.4H698.8L686.8 741.8Q684.2 743.3 681.5 742L677.2 739.7Q673.6 737.6 674.6 733.4Z" fill="#4a4a4a"/>
<path d="M700.9 736.8C703.6 740.4 705 742.6 705 744.3A4.1 4.1 0 0 1 696.8 744.3C696.8 742.6 698.2 740.4 700.9 736.8Z" fill="#4a4a4a"/>
<g fill="none" stroke="#4a4a4a" stroke-width="3" stroke-linecap="round" stroke-linejoin="round" ><path d="M676 926.2H704.5M676 937H694.7M676 947.6H681.7"/></g>
<g fill="none" stroke="#333" stroke-width="2.5" stroke-linecap="round" stroke-linejoin="round" ><path d="M1028.8 1006.4H1050.8M1028.8 1015H1043.6M1028.8 1023.4H1032.8"/></g>
<g fill="none" stroke="#404040" stroke-width="3" stroke-linecap="round" stroke-linejoin="round" ><rect x="676.5" y="1319.2" width="28" height="22.6" rx="5"/><path d="M676.5 1330.5H704.5"/></g>
<g fill="none" stroke="#36b635" stroke-width="3" stroke-linecap="round" stroke-linejoin="round" ><rect x="702.5" y="390.5" width="23" height="23" rx="4.6"/><path d="M710.6 397H717.5M714.06 397V406"/></g>
<g fill="none" stroke="#4d7cf0" stroke-width="3" stroke-linecap="round" stroke-linejoin="round" ><path d="M704.7 601.4H725.2M702.7 610.5H723.3M710.9 595.7L706.9 616.2M721.06 595.7L717 616.2"/></g>
<g fill="none" stroke="#36b635" stroke-width="3" stroke-linecap="round" stroke-linejoin="round" ><rect x="702.5" y="800.0" width="23" height="23" rx="4.6"/><path d="M710.6 806.5H717.5M714.06 806.5V815.5"/></g>
<g fill="none" stroke="#4d7cf0" stroke-width="3" stroke-linecap="round" stroke-linejoin="round" ><path d="M704.7 1011.4H725.2M702.7 1020.5H723.3M710.9 1005.7L706.9 1026.2M721.06 1005.7L717 1026.2"/></g>
</svg>
<span class="t" style="left:679.30px;top:1124.94px;font-size:33.5px;line-height:33.5px;color:#454545;transform:scaleX(0.9435);-webkit-text-stroke:0.8px #454545;">A</span>
<div class="a" style="left:2526px;top:3px;width:31px;height:1434px;background:#f1f1f1;"></div>
<div class="a" style="left:2529px;top:33px;width:28px;height:1281px;background:#c1c1c1;"></div>
<svg style="left:0;top:0" width="2560" height="1440"><path d="M2536 22L2543.5 14L2551 22Z" fill="#a3a3a3"/><path d="M2536 1417.5L2543.5 1425.5L2551 1417.5Z" fill="#505050"/></svg>
</body></html>
